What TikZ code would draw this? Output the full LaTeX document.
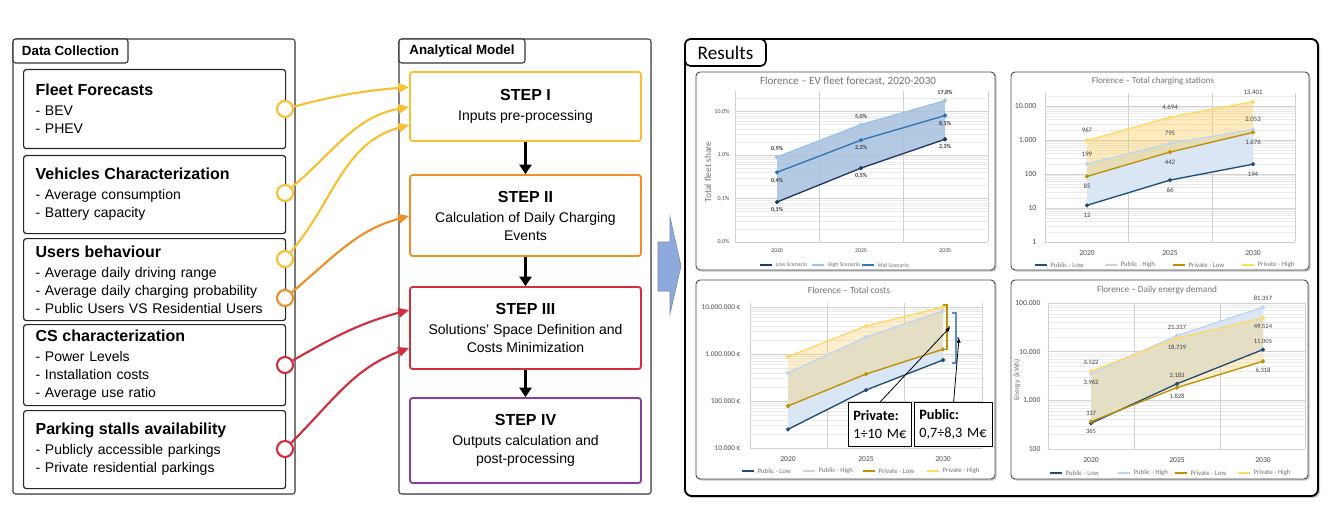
\documentclass[tikz,border=0pt]{standalone}
\usepackage{fontspec}
\setmainfont{Liberation Sans}
\newfontfamily\chartfont{Carlito}
\usetikzlibrary{arrows.meta,shadows}

\definecolor{stepyellow}{RGB}{250,192,50}
\definecolor{steporange}{RGB}{240,142,40}
\definecolor{stepred}{RGB}{212,46,62}
\definecolor{steppurple}{RGB}{136,62,158}
\definecolor{arrowblue}{RGB}{142,169,219}
\definecolor{lowblue}{RGB}{32,56,100}
\definecolor{midblue}{RGB}{46,117,182}
\definecolor{highblue}{RGB}{157,195,230}
\definecolor{fleetfill}{RGB}{166,193,221}
\definecolor{publow}{RGB}{31,78,121}
\definecolor{pubhigh}{RGB}{189,215,238}
\definecolor{privlow}{RGB}{191,144,0}
\definecolor{privhigh}{RGB}{255,217,102}
\definecolor{pubfill}{RGB}{218,230,243}
\definecolor{privfill}{RGB}{250,205,90}
\definecolor{bracketblue}{RGB}{91,143,199}

\tikzset{
  outerframe/.style={draw=black!75, line width=0.8pt, rounded corners=2pt, fill=white},
  tabbox/.style={draw=black!80, line width=0.8pt, rounded corners=2pt, fill=white, inner sep=0pt, font=\fontsize{10}{12}\selectfont\bfseries},
  dcbox/.style={draw=black!85, line width=0.9pt, rounded corners=2pt, anchor=north west, text width=178.5pt, inner xsep=9pt, align=left, font=\fontsize{10.5}{13.5}\selectfont},
  port/.style={circle, draw=#1, line width=1.6pt, fill=white, minimum size=12pt, inner sep=0pt},
  stepbox/.style={draw=#1, line width=1.4pt, rounded corners=2pt, fill=white, minimum width=173.25pt, align=center, font=\fontsize{10.5}{13.5}\selectfont},
  feed/.style={draw=#1, line width=1.6pt, -{Triangle[length=8pt,width=7pt]}},
  flow/.style={draw=black, line width=2.6pt, -{Triangle[length=7pt,width=9pt]}},
  panel/.style={draw=black!70, line width=0.7pt, fill=white, rounded corners=3pt, drop shadow={shadow xshift=1.2pt, shadow yshift=-1.2pt, opacity=.45}},
  majorgrid/.style={draw=black!18, line width=0.4pt},
  minorgrid/.style={draw=black!8, line width=0.3pt},
  series/.style={draw=#1, line width=1pt, mark=*, mark size=1pt, mark options={draw=#1, fill=#1}},
  charttitle/.style={font=\chartfont\fontsize{#1}{#1}\selectfont, text=black!55, inner sep=0pt},
  ticklab/.style={font=\chartfont\fontsize{#1}{#1}\selectfont, text=black!70, inner sep=1pt},
  ticklab/.default=5.5,
  datalab/.style={font=\chartfont\fontsize{#1}{#1}\selectfont, text=black!75, inner sep=1pt},
  datalab/.default=5,
  legtext/.style={font=\chartfont\fontsize{5.1}{6}\selectfont, text=black!55, inner sep=1pt},
  calloutbox/.style={draw=black, line width=0.9pt, fill=white, anchor=north west, align=left, inner xsep=3.5pt, minimum height=33pt, font=\chartfont\fontsize{10.7}{13.5}\selectfont},
  callarrow/.style={draw=black, line width=0.6pt, -{Triangle[length=3.5pt,width=2.8pt]}}
}

% legend entry: x, y, colour, text
\newcommand\legkey[4]{%
  \draw[#3, line width=1.1pt] (#1,#2) -- ({#1+12},#2);
  \fill[#3] ({#1+6},#2) circle (1.1pt);
  \node[legtext, anchor=west] at ({#1+14},#2) {#4};
}

\begin{document}
\begin{tikzpicture}[x=0.75pt, y=-0.75pt]
\useasboundingbox (0,0) rectangle (1328,531);
\fill[white] (0,0) rectangle (1328,531);

%%%%% DATA COLLECTION %%%%%
\draw[outerframe, drop shadow={shadow xshift=.6pt, shadow yshift=-.6pt, opacity=.3}] (13,39) rectangle (295,494);
\node[tabbox, minimum width=86.25pt, minimum height=18pt] (dctab) at (70.5,51) {Data Collection};

\node[dcbox, minimum height=59.25pt] (fleet) at (23,69) {{\fontsize{12}{14}\selectfont\bfseries Fleet Forecasts}\\[1.5pt]- BEV\\- PHEV};
\node[dcbox, minimum height=58.5pt] (vehicles) at (23,155) {{\fontsize{12}{14}\selectfont\bfseries Vehicles Characterization}\\[1.5pt]- Average consumption\\- Battery capacity};
\node[dcbox, minimum height=61.5pt] (users) at (23,238) {{\fontsize{12}{14}\selectfont\bfseries Users behaviour}\\[1.5pt]- Average daily driving range\\- Average daily charging probability\\- Public Users VS Residential Users};
\node[dcbox, minimum height=60.75pt] (cs) at (23,324) {{\fontsize{12}{14}\selectfont\bfseries CS characterization}\\[1.5pt]- Power Levels\\- Installation costs\\- Average use ratio};
\node[dcbox, minimum height=58.5pt] (parking) at (23,410) {{\fontsize{12}{14}\selectfont\bfseries Parking stalls availability}\\[1.5pt]- Publicly accessible parkings\\- Private residential parkings};

\node[port=stepyellow] (pfleet) at (285,109) {};
\node[port=stepyellow] (pveh) at (285,193) {};
\node[port=stepyellow] (pusers1) at (285,259) {};
\node[port=steporange] (pusers2) at (285,298) {};
\node[port=stepred] (pcs) at (285,365) {};
\node[port=stepred] (ppark) at (285,449) {};

%%%%% ANALYTICAL MODEL %%%%%
\draw[outerframe, drop shadow={shadow xshift=.6pt, shadow yshift=-.6pt, opacity=.3}] (399,39) rectangle (651,494);
\node[tabbox, minimum width=94.5pt, minimum height=18pt] (amtab) at (462,51) {Analytical Model};

\node[stepbox=stepyellow, minimum height=51.75pt] (step1) at (525.5,106.5) {{\fontsize{12}{14}\selectfont\bfseries STEP I}\\[1.5pt]Inputs pre-processing};
\node[stepbox=steporange, minimum height=60.75pt] (step2) at (525.5,215.5) {{\fontsize{12}{14}\selectfont\bfseries STEP II}\\[1.5pt]Calculation of Daily Charging\\Events};
\node[stepbox=stepred, minimum height=61.5pt] (step3) at (525.5,328) {{\fontsize{12}{14}\selectfont\bfseries STEP III}\\[1.5pt]Solutions’ Space Definition and\\Costs Minimization};
\node[stepbox=steppurple, minimum height=63.75pt] (step4) at (525.5,440.5) {{\fontsize{12}{14}\selectfont\bfseries STEP IV}\\[1.5pt]Outputs calculation and\\post-processing};

\draw[flow] (step1) -- (step2);
\draw[flow] (step2) -- (step3);
\draw[flow] (step3) -- (step4);

\draw[feed=stepyellow] (pfleet) to[out=15, in=185] (step1.west |- 0,87);
\draw[feed=stepyellow] (pveh) to[out=40, in=190] (step1.west |- 0,107);
\draw[feed=stepyellow] (pusers1) to[out=50, in=195] (step1.west |- 0,125);
\draw[feed=steporange] (pusers2) to[out=40, in=195] (step2.west |- 0,216);
\draw[feed=stepred] (pcs) to[out=30, in=195] (step3.west |- 0,310);
\draw[feed=stepred] (ppark) to[out=45, in=200] (step3.west |- 0,348);

% block arrow
\filldraw[fill=arrowblue, draw=arrowblue!80!black, line width=0.4pt] (658,242) -- (670,242) -- (670,217) -- (681,266) -- (670,314) -- (670,291) -- (658,291) -- cycle;

%%%%% RESULTS %%%%%
\draw[draw=black, line width=1.4pt, rounded corners=5pt, fill=white, drop shadow={shadow xshift=1.5pt, shadow yshift=-1.5pt, opacity=.4}] (685,39) rectangle (1318,496);
\node[draw=black, line width=1.2pt, rounded corners=4pt, fill=white, minimum width=60.75pt, minimum height=20.25pt, inner sep=0pt, font=\chartfont\fontsize{14.4}{16}\selectfont] (restab) at (725.5,52.5) {Results};

% chart 1 - fleet forecast
\draw[panel] (696,72) rectangle (995,270);
\node[charttitle=8.3] (title1) at (848,81) {Florence – EV fleet forecast, 2020-2030};
\node[charttitle=7, rotate=90] (axis1) at (708,172) {Total fleet share};
\begin{scope}[shift={(0,242)}, y=32.625pt]
  \foreach \d in {0,1,2}
    \foreach \k in {2,...,9}
      \draw[minorgrid] (735,{\d+log10(\k)}) -- (988,{\d+log10(\k)});
  \draw[minorgrid] (735,{3+log10(2)}) -- (988,{3+log10(2)});
  \foreach \d in {0,...,3}
    \draw[majorgrid] (735,\d) -- (988,\d);
  \foreach \x in {735,819,903,988}
    \draw[majorgrid] (\x,0) -- (\x,3.47);
  \foreach \d/\t in {0/{0,0\%},1/{0,1\%},2/{1,0\%},3/{10,0\%}}
    \node[ticklab=4.5, anchor=east] at (731,\d) {\t};
  \foreach \x/\t in {777/2020,861/2025,945/2030}
    \node[ticklab=4.4, below=3.5pt] at (\x,0) {\t};
  \fill[fleetfill, opacity=.85] (777,1.954) -- (861,2.699) -- (945,3.250) -- (945,2.362) -- (861,1.699) -- (777,0.919) -- cycle;
  \draw[series=lowblue] plot coordinates {(777,0.919) (861,1.699) (945,2.362)};
  \draw[series=highblue] plot coordinates {(777,1.954) (861,2.699) (945,3.250)};
  \draw[series=midblue] plot coordinates {(777,1.602) (861,2.342) (945,2.908)};
  \node[datalab=4.5, above=3pt] at (777,1.954) {\bfseries 0,9\%};
  \node[datalab=4.5, below=3pt] at (777,1.602) {\bfseries 0,4\%};
  \node[datalab=4.5, below=3pt] at (777,0.919) {\bfseries 0,1\%};
  \node[datalab=4.5, above=3pt] at (861,2.699) {\bfseries 5,0\%};
  \node[datalab=4.5, below=3pt] at (861,2.342) {\bfseries 2,2\%};
  \node[datalab=4.5, below=3pt] at (861,1.699) {\bfseries 0,5\%};
  \node[datalab=4.5, above=3pt] at (945,3.250) {\bfseries 17,8\%};
  \node[datalab=4.5, below=3pt] at (945,2.908) {\bfseries 8,1\%};
  \node[datalab=4.5, below=3pt] at (945,2.362) {\bfseries 2,3\%};
\end{scope}
\begin{scope}[legtext/.append style={font=\chartfont\fontsize{4.4}{5}\selectfont}]
  \legkey{760}{265}{lowblue}{Low Scenario}
  \legkey{812}{265}{highblue}{High Scenario}
  \legkey{862}{265}{midblue}{Mid Scenario}
\end{scope}

% chart 2 - charging stations
\draw[panel] (1011,72) rectangle (1309,270);
\node[charttitle=6.8] (title2) at (1153,81) {Florence – Total charging stations};
\begin{scope}[shift={(0,242)}, y=25.5pt]
  \foreach \d in {0,...,3}
    \foreach \k in {2,...,9}
      \draw[minorgrid] (1045,{\d+log10(\k)}) -- (1295,{\d+log10(\k)});
  \draw[minorgrid] (1045,{4+log10(2)}) -- (1295,{4+log10(2)});
  \foreach \d in {0,...,4}
    \draw[majorgrid] (1045,\d) -- (1295,\d);
  \foreach \x in {1045,1128,1212,1295}
    \draw[majorgrid] (\x,0) -- (\x,4.38);
  \foreach \d/\t in {0/1,1/10,2/100,3/{1.000},4/{10.000}}
    \node[ticklab=5.8, anchor=east] at (1038,\d) {\t};
  \foreach \x/\t in {1087/2020,1170/2025,1253/2030}
    \node[ticklab=5.7, below=5pt] at (\x,0) {\t};
  \fill[pubfill] (1087,2.299) -- (1170,2.900) -- (1253,3.312) -- (1253,2.288) -- (1170,1.820) -- (1087,1.079) -- cycle;
  \fill[privfill, opacity=.4] (1087,2.985) -- (1170,3.672) -- (1253,4.127) -- (1253,3.224) -- (1170,2.645) -- (1087,1.929) -- cycle;
  \draw[series=publow] plot coordinates {(1087,1.079) (1170,1.820) (1253,2.288)};
  \draw[series=pubhigh] plot coordinates {(1087,2.299) (1170,2.900) (1253,3.312)};
  \draw[series=privlow] plot coordinates {(1087,1.929) (1170,2.645) (1253,3.224)};
  \draw[series=privhigh] plot coordinates {(1087,2.985) (1170,3.672) (1253,4.127)};
  \node[datalab=5.1, above=4.5pt] at (1087,2.985) {967};
  \node[datalab=5.1, above=4.5pt] at (1087,2.299) {199};
  \node[datalab=5.1, below=4.5pt] at (1087,1.929) {85};
  \node[datalab=5.1, below=4.5pt] at (1087,1.079) {12};
  \node[datalab=5.1, above=4.5pt] at (1170,3.672) {4.694};
  \node[datalab=5.1, above=4.5pt] at (1170,2.900) {795};
  \node[datalab=5.1, below=4.5pt] at (1170,2.645) {442};
  \node[datalab=5.1, below=4.5pt] at (1170,1.820) {66};
  \node[datalab=5.1, above=4.5pt] at (1253,4.127) {13.401};
  \node[datalab=5.1, above=4.5pt] at (1253,3.312) {2.053};
  \node[datalab=5.1, below=4.5pt] at (1253,3.224) {1.676};
  \node[datalab=5.1, below=4.5pt] at (1253,2.288) {194};
\end{scope}
\legkey{1035}{265}{publow}{Public - Low}
\legkey{1105}{265}{pubhigh}{Public - High}
\legkey{1173}{265}{privlow}{Private - Low}
\legkey{1242}{265}{privhigh}{Private - High}

% chart 3 - total costs
\draw[panel] (696,280) rectangle (995,479);
\node[charttitle=7.1] (title3) at (849,290) {Florence – Total costs};
\begin{scope}[shift={(0,448)}, y=35.25pt]
  \foreach \d in {0,1,2}
    \foreach \k in {2,...,9}
      \draw[minorgrid] (750,{\d+log10(\k)}) -- (982,{\d+log10(\k)});
  \foreach \d in {0,...,3}
    \draw[majorgrid] (750,\d) -- (982,\d);
  \foreach \x in {750,827,904,982}
    \draw[majorgrid] (\x,0) -- (\x,3.09);
  \foreach \d/\t in {0/{10.000 €},1/{100.000 €},2/{1.000.000 €},3/{10.000.000 €}}
    \node[ticklab=5.5, anchor=east] at (742,\d) {\t};
  \foreach \x/\t in {788/2020,866/2025,943/2030}
    \node[ticklab=5.7, below=5.5pt] at (\x,0) {\t};
  \fill[pubfill] (788,1.596) -- (866,2.362) -- (943,2.919) -- (943,1.872) -- (866,1.233) -- (788,0.398) -- cycle;
  \fill[privfill, opacity=.3] (788,1.944) -- (866,2.595) -- (943,3.000) -- (943,2.100) -- (866,1.574) -- (788,0.894) -- cycle;
  \draw[series=publow] plot coordinates {(788,0.398) (866,1.233) (943,1.872)};
  \draw[series=pubhigh] plot coordinates {(788,1.596) (866,2.362) (943,2.919)};
  \draw[series=privlow] plot coordinates {(788,0.894) (866,1.574) (943,2.100)};
  \draw[series=privhigh] plot coordinates {(788,1.944) (866,2.595) (943,3.000)};
  % brackets
  \draw[privlow, line width=1.1pt] (943,3.04) -- (947,3.04) -- (947,2.10) -- (943,2.10);
  \draw[privlow, line width=1.1pt] (947,2.57) -- (950,2.57);
  \draw[bracketblue, line width=1pt] (952,2.87) -- (956,2.87) -- (956,1.81) -- (952,1.81);
  \draw[bracketblue, line width=1pt] (956,2.34) -- (959,2.34);
  \coordinate (privtip) at (950,2.57);
  \coordinate (pubtip) at (959,2.34);
\end{scope}
\node[calloutbox, minimum width=47.25pt, text width=40.25pt] (cpriv) at (848,402) {\textbf{Private:}\\1÷10 M€};
\node[calloutbox, minimum width=58.5pt, text width=51.5pt] (cpub) at (914,402) {\textbf{Public:}\\0,7÷8,3 M€};
\draw[callarrow] (cpriv.north) -- (privtip);
\draw[callarrow] (cpub.north) -- (pubtip);
\legkey{742}{471}{publow}{Public - Low}
\legkey{803}{471}{pubhigh}{Public - High}
\legkey{863}{471}{privlow}{Private - Low}
\legkey{927}{471}{privhigh}{Private - High}

% chart 4 - energy demand
\draw[panel] (1011,280) rectangle (1308,479);
\node[charttitle=6.9] (title4) at (1157,290) {Florence – Daily energy demand};
\node[charttitle=5.5, rotate=90] (axis4) at (1017,380) {Energy\ \ (kWh)};
\begin{scope}[shift={(0,449)}, y=36.525pt]
  \foreach \d in {0,1,2}
    \foreach \k in {2,...,9}
      \draw[minorgrid] (1048,{\d+log10(\k)}) -- (1305,{\d+log10(\k)});
  \foreach \d in {0,...,3}
    \draw[majorgrid] (1048,\d) -- (1305,\d);
  \foreach \x in {1048,1134,1220,1305}
    \draw[majorgrid] (\x,0) -- (\x,3);
  \foreach \d/\t in {0/100,1/{1.000},2/{10.000},3/{100.000}}
    \node[ticklab=5.7, anchor=east] at (1042,\d) {\t};
  \foreach \x/\t in {1091/2020,1177/2025,1263/2030}
    \node[ticklab=5.7, below=5.5pt] at (\x,0) {\t};
  \fill[pubfill] (1091,1.547) -- (1177,2.329) -- (1263,2.910) -- (1263,2.042) -- (1177,1.339) -- (1091,0.528) -- cycle;
  \fill[privfill, opacity=.3] (1091,1.598) -- (1177,2.273) -- (1263,2.695) -- (1263,1.801) -- (1177,1.262) -- (1091,0.562) -- cycle;
  \draw[series=publow] plot coordinates {(1091,0.528) (1177,1.339) (1263,2.042)};
  \draw[series=pubhigh] plot coordinates {(1091,1.547) (1177,2.329) (1263,2.910)};
  \draw[series=privlow] plot coordinates {(1091,0.562) (1177,1.262) (1263,1.801)};
  \draw[series=privhigh] plot coordinates {(1091,1.598) (1177,2.273) (1263,2.695)};
  \node[datalab=4.9, above=3.5pt] at (1091,1.598) {3.522};
  \node[datalab=4.9, below=3.5pt] at (1091,1.547) {3.962};
  \node[datalab=4.9, above=3.5pt] at (1091,0.562) {337};
  \node[datalab=4.9, below=3.5pt] at (1091,0.528) {365};
  \node[datalab=4.9, above=3.5pt] at (1177,2.329) {21.317};
  \node[datalab=4.9, below=3.5pt] at (1177,2.273) {18.739};
  \node[datalab=4.9, above=3.5pt] at (1177,1.339) {2.183};
  \node[datalab=4.9, below=3.5pt] at (1177,1.262) {1.828};
  \node[datalab=4.9, above=3.5pt] at (1263,2.910) {81.357};
  \node[datalab=4.9, below=3.5pt] at (1263,2.695) {49.524};
  \node[datalab=4.9, above=3.5pt] at (1263,2.042) {11.005};
  \node[datalab=4.9, below=3.5pt] at (1263,1.801) {6.318};
\end{scope}
\legkey{1050}{473}{publow}{Public - Low}
\legkey{1118}{473}{pubhigh}{Public - High}
\legkey{1175}{473}{privlow}{Private - Low}
\legkey{1238}{473}{privhigh}{Private - High}

\end{tikzpicture}
\end{document}
